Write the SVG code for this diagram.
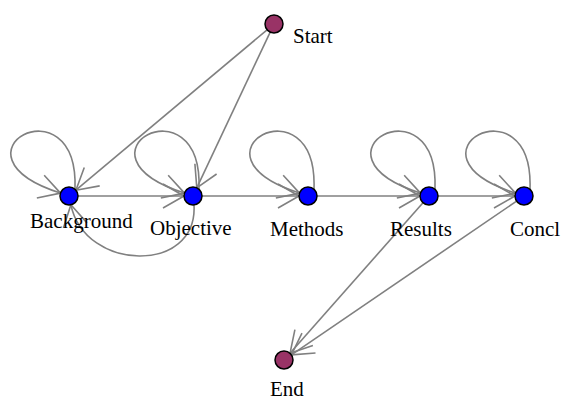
<svg xmlns="http://www.w3.org/2000/svg" width="563" height="402" viewBox="0 0 563 402">
<style>
.e{fill:none;stroke:#808080;stroke-width:1.6;marker-end:url(#arr)}
.n{fill:#0000ff;stroke:#000;stroke-width:1.5}
.t{fill:#993366;stroke:#000;stroke-width:1.5}
text{font-family:"Liberation Serif","Times New Roman",serif;font-size:21px;fill:#000}
</style>
<defs>
<marker id="arr" markerUnits="userSpaceOnUse" markerWidth="30" markerHeight="30" viewBox="-25 -15 30 30" refX="0" refY="0" orient="auto" overflow="visible">
<path d="M-21,-12 L0,0 L-21,12" fill="none" stroke="#808080" stroke-width="1.6" stroke-linejoin="round"/>
</marker>
</defs>
<rect width="563" height="402" fill="#fff"/>
<g id="edges">
<path class="e" d="M267.1,29.8 L75.9,190.2"/>
<path class="e" d="M270.2,32.1 L196.8,187.9"/>
<path class="e" d="M78,196 L184,196"/>
<path class="e" d="M194,205 C198,274 85,272 70.9,204.8"/>
<path class="e" d="M202,196 L299,196"/>
<path class="e" d="M317,196 L420,196"/>
<path class="e" d="M438,196 L515,196"/>
<path class="e" d="M423,202.7 L290,353.3"/>
<path class="e" d="M516.6,201.1 L291.4,354.9"/>
<path class="e" transform="translate(69,196)" d="M6,-7 C10,-118 -130,-42 -8.5,-2.9"/>
<path class="e" transform="translate(193,196)" d="M6,-7 C10,-118 -130,-42 -8.5,-2.9"/>
<path class="e" transform="translate(308,196)" d="M6,-7 C10,-118 -130,-42 -8.5,-2.9"/>
<path class="e" transform="translate(429,196)" d="M6,-7 C10,-118 -130,-42 -8.5,-2.9"/>
<path class="e" transform="translate(524,196)" d="M6,-7 C10,-118 -130,-42 -8.5,-2.9"/>
</g>
<g id="Start"><circle class="t" cx="274" cy="24" r="9"/><text x="293" y="43">Start</text></g>
<g id="Background"><circle class="n" cx="69" cy="196" r="9"/><text x="30" y="228">Background</text></g>
<g id="Objective"><circle class="n" cx="193" cy="196" r="9"/><text x="150" y="235">Objective</text></g>
<g id="Methods"><circle class="n" cx="308" cy="196" r="9"/><text x="270" y="236">Methods</text></g>
<g id="Results"><circle class="n" cx="429" cy="196" r="9"/><text x="390" y="236">Results</text></g>
<g id="Concl"><circle class="n" cx="524" cy="196" r="9"/><text x="510" y="236">Concl</text></g>
<g id="End"><circle class="t" cx="284" cy="360" r="9"/><text x="270" y="396">End</text></g>
</svg>
